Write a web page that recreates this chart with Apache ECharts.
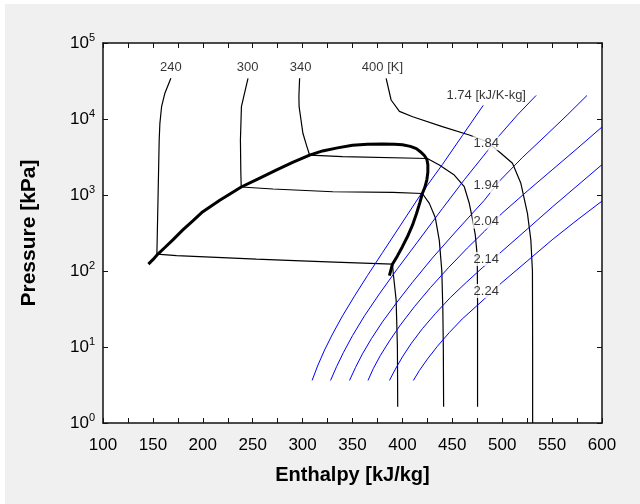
<!DOCTYPE html>
<html><head><meta charset="utf-8">
<script src="https://cdn.jsdelivr.net/npm/echarts@6/dist/echarts.min.js"></script>
<style>html,body{margin:0;padding:0;background:#ffffff}#c{position:absolute;left:5px;top:4px;width:635px;height:500px}</style>
</head><body><div id="c"></div>
<script>
// Saturation dome (thick)
const satH = [145.5,150,155,162,170,180,190,200,217,228,238.5,255,274,290,307,320,335,350,365,380,392,400,408,414,418,422,424.5,425.5,425.5,424.5,422.5,420,417.5,414,410,405,400,395,390,387];
const satP = [123,141,167,204,257,347,457,603,851,1047,1274,1622,2138,2692,3350,3802,4169,4519,4656,4688,4667,4571,4365,4074,3715,3311,2951,2512,1995,1585,1259,1047,794,562,398,282,209,158,123,87];

// Isotherms (thin black)
const t240H = [168,162,158.7,157,156.3,155.3,154,155.3,173.7,213.7,253.7,292,332,390,391,393.7,395,395.3];
const t240P = [34277,21878,14521,8770,5297,1164,167,167,159,151,143,137,131,123,89,42,10,1.64];
const t300H = [245.3,242,238.7,237.7,238.1,238.5,270.3,330.3,390.3,420,427,433,437,439.5,440.5,441,441.3];
const t300P = [34277,22387,14521,5297,1995,1274,1199,1104,1084,1047,776,501,251,100,31.6,10,1.64];
const t340H = [297,296.3,296.5,300.3,304,307,340,425,437,452,462,467,470,473,475,475.3,475.3];
const t340P = [34277,19953,14521,6486,4467,3357,3199,3020,2483,1832,1285,778,501,302,158,39.8,1.64];
const t400H = [383.7,388.7,397,410.3,440,467,485,498.7,510.3,518.7,525.3,528.7,530.3,530.5,530.5];
const t400P = [34277,17783,12589,10715,7943,6152,5012,3540,2612,1426,574,256,100,10,1];

// Isentropes (blue)
const s174H = [309.5,315,322,330,340,352,365,380,397,418,440,460,481];
const s174P = [3.63,5.62,9.12,14.8,25.7,46.8,87.1,174,380,1000,2512,6026,15136];
const s184H = [328,334,341,350,362,377,395,415,440,462,484,497,515,534];
const s184P = [3.63,5.50,8.51,14.1,25.7,50.1,107,240,661,1585,3631,6026,11220,20417];
const s194H = [347,353,360,369,380,394,410,430,455,482,497,520,545,565,585];
const s194P = [3.63,5.37,8.13,12.9,21.4,38.0,70.8,148,347,851,1514,3090,6310,11220,20417];
const s204H = [365.5,371,378,387,398,412,428,446,465,482,499,525,550,575,600];
const s204P = [3.63,5.25,7.76,12.0,19.5,33.9,60.3,110,200,331,562,1122,2138,4074,7852];
const s214H = [387,393,400,409,420,433,448,464,480,499,525,550,575,600];
const s214P = [3.63,5.13,7.41,11.2,17.4,27.5,44.7,70.8,110,178,355,692,1318,2512];
const s224H = [411,417,425,435,447,460,482,499,525,550,575,600];
const s224P = [3.63,4.90,6.92,10.2,15.5,23.4,42.7,69.2,135,257,468,832];

// In-plot labels
const labelTexts = ['240','300','340','400 [K]','1.74 [kJ/K-kg]','1.84','1.94','2.04','2.14','2.24'];
const labelH = [168,245,298,380,484,484,484,484,484,484];
const labelP = [47863,47863,47863,47863,20417,4786,1318,447,144,54.6];

const xTicks = [100,150,200,250,300,350,400,450,500,550,600];

const FONT = '"Liberation Sans", Arial, sans-serif';
const pairs = (h, p) => h.map((x, i) => [x, p[i]]);
const lineSeries = (h, p, color, width, z) => ({
  type: 'line', data: pairs(h, p), showSymbol: false, symbol: 'none', silent: true,
  lineStyle: { color: color, width: width }, z: z || 2, animation: false
});

const chart = echarts.init(document.getElementById('c'), null, { renderer: 'canvas' });
const axisCommon = {
  axisLine: { show: true, onZero: false, lineStyle: { color: '#111', width: 1.5 } },
  axisTick: { show: true, inside: true, length: 5, lineStyle: { color: '#111', width: 1 } },
  splitLine: { show: false }
};
chart.setOption({
  backgroundColor: '#f0f0f0',
  animation: false,
  grid: { left: 98, right: 38, top: 39, bottom: 81, show: true, backgroundColor: '#fff', borderWidth: 0 },
  xAxis: [
    Object.assign({ type: 'value', min: 100, max: 600, interval: 25, position: 'bottom',
      axisLabel: { fontSize: 17, color: '#000', margin: 14, fontFamily: FONT,
        formatter: v => xTicks.indexOf(v) >= 0 ? String(v) : '' },
      name: 'Enthalpy [kJ/kg]', nameLocation: 'middle', nameGap: 42,
      nameTextStyle: { fontWeight: 'bold', fontSize: 20, color: '#000', fontFamily: FONT } }, axisCommon),
    Object.assign({ type: 'value', min: 100, max: 600, interval: 25, position: 'top',
      axisLabel: { show: false } }, axisCommon)
  ],
  yAxis: [
    Object.assign({ type: 'log', logBase: 10, min: 1, max: 100000, position: 'left',
      axisLabel: { margin: 8, color: '#000',
        formatter: v => '{b|10}{s|' + Math.round(Math.log10(v)) + '}',
        rich: {
          b: { fontSize: 17, fontFamily: FONT, color: '#000', lineHeight: 17 },
          s: { fontSize: 11, fontFamily: FONT, color: '#000', lineHeight: 11, padding: [0, 0, 11, 0] }
        } },
      name: 'Pressure [kPa]', nameLocation: 'middle', nameGap: 63, nameRotate: 90,
      nameTextStyle: { fontWeight: 'bold', fontSize: 21, color: '#000', fontFamily: FONT } }, axisCommon),
    Object.assign({ type: 'log', logBase: 10, min: 1, max: 100000, position: 'right',
      axisLabel: { show: false } }, axisCommon)
  ],
  series: [
    lineSeries(t240H, t240P, '#000', 1.2),
    lineSeries(t300H, t300P, '#000', 1.2),
    lineSeries(t340H, t340P, '#000', 1.2),
    lineSeries(t400H, t400P, '#000', 1.2),
    lineSeries(s174H, s174P, '#0000ff', 1),
    lineSeries(s184H, s184P, '#0000ff', 1),
    lineSeries(s194H, s194P, '#0000ff', 1),
    lineSeries(s204H, s204P, '#0000ff', 1),
    lineSeries(s214H, s214P, '#0000ff', 1),
    lineSeries(s224H, s224P, '#0000ff', 1),
    lineSeries(satH, satP, '#000', 3, 3),
    {
      type: 'scatter', symbolSize: 0, silent: true, z: 10,
      data: labelTexts.map((t, i) => ({ name: t, value: [labelH[i], labelP[i]] })),
      label: { show: true, position: 'inside', formatter: '{b}', color: '#000', fontSize: 13,
        fontFamily: FONT, backgroundColor: '#fff', padding: [1, 1, 0, 1] }
    }
  ]
});
</script></body></html>
